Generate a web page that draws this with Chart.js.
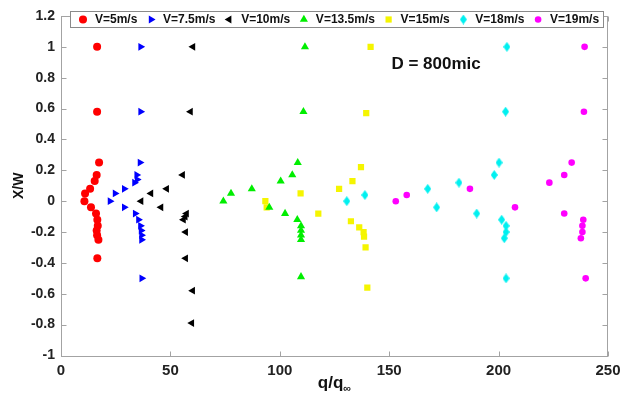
<!DOCTYPE html>
<html><head><meta charset="utf-8">
<script src="https://cdn.jsdelivr.net/npm/chart.js@4.4.1/dist/chart.umd.min.js"></script>
<style>html,body{margin:0;padding:0;background:#fff;}canvas{display:block;}</style>
</head><body>
<canvas id="c" width="631" height="404"></canvas>
<script>
// ---------- data ----------
const seriesLabels = ['V=5m/s','V=7.5m/s','V=10m/s','V=13.5m/s','V=15m/s','V=18m/s','V=19m/s'];

const v5x  = [16.5, 16.5, 17.4, 16.3, 15.4, 13.3, 11.0, 10.7, 13.7, 16.0, 16.6, 16.8, 16.3, 16.5, 17.1, 16.6];
const v5y  = [1, 0.58, 0.25, 0.17, 0.13, 0.08, 0.05, 0, -0.04, -0.08, -0.12, -0.16, -0.19, -0.22, -0.25, -0.37];

const v75x = [36.4, 36.4, 36.1, 34.6, 34.8, 33.6, 28.9, 24.7, 22.4, 28.9, 33.9, 35.4, 36.3, 36.6, 36.8, 36.8, 36.9];
const v75y = [1, 0.58, 0.25, 0.17, 0.14, 0.12, 0.08, 0.05, 0, -0.04, -0.08, -0.12, -0.16, -0.19, -0.22, -0.25, -0.5];

const v10x = [60.3, 59.2, 55.6, 48.3, 41.1, 36.6, 45.7, 57.4, 56.8, 56.0, 57.0, 57.0, 60.2, 59.8];
const v10y = [1, 0.58, 0.17, 0.08, 0.05, 0, -0.04, -0.08, -0.10, -0.12, -0.2, -0.37, -0.58, -0.79];

const v135x = [111.5, 110.8, 108.2, 105.7, 100.4, 87.2, 77.7, 74.2, 95.2, 102.4, 108.0, 109.7, 109.7, 109.7, 109.7, 109.7];
const v135y = [1, 0.58, 0.25, 0.17, 0.13, 0.08, 0.05, 0, -0.04, -0.08, -0.12, -0.16, -0.19, -0.22, -0.25, -0.49];

const v15x = [141.5, 139.5, 137.1, 133.2, 127.1, 109.5, 93.4, 94.0, 117.6, 132.5, 136.3, 138.3, 138.5, 139.2, 140.0];
const v15y = [1, 0.57, 0.22, 0.13, 0.08, 0.05, 0, -0.04, -0.08, -0.13, -0.17, -0.2, -0.23, -0.3, -0.56];

const v18x = [203.8, 203.2, 200.2, 198.0, 181.9, 167.6, 138.9, 130.6, 171.7, 190.0, 201.4, 203.4, 203.4, 202.6, 203.4];
const v18y = [1, 0.58, 0.25, 0.17, 0.12, 0.08, 0.04, 0, -0.04, -0.08, -0.12, -0.16, -0.2, -0.24, -0.5];

const v19x = [239.3, 239.0, 233.4, 230.0, 223.2, 186.9, 158.0, 153.0, 207.5, 230.0, 238.7, 238.3, 238.3, 237.6, 239.8];
const v19y = [1, 0.58, 0.25, 0.17, 0.12, 0.08, 0.04, 0, -0.04, -0.08, -0.12, -0.16, -0.2, -0.24, -0.5];

const xTicks = [0, 50, 100, 150, 200, 250];
const xTickLabels = ['0','50','100','150','200','250'];
const yTicks = [-1, -0.8, -0.6, -0.4, -0.2, 0, 0.2, 0.4, 0.6, 0.8, 1, 1.2];
const yTickLabels = ['-1','-0.8','-0.6','-0.4','-0.2','0','0.2','0.4','0.6','0.8','1','1.2'];

const annotationText = 'D = 800mic';
const annotationPos = [151, 0.885];
const xTitleMain = 'q/q';
const xTitleSub = '\u221E';
const yTitle = 'X/W';

// ---------- styles ----------
const FONT = '"Liberation Sans", Arial, Helvetica, sans-serif';
function pts(xs, ys){ return xs.map((x,i)=>({x:x, y:ys[i]})); }

// elongated diamond for cyan
const diamond = document.createElement('canvas');
diamond.width = 7; diamond.height = 10;
(function(){
  const g = diamond.getContext('2d');
  g.fillStyle = '#00f0f0';
  g.beginPath(); g.moveTo(3.5,0); g.lineTo(7,5); g.lineTo(3.5,10); g.lineTo(0,5); g.closePath(); g.fill();
})();

const styles = [
  {color:'#ff0000', pointStyle:'circle',   radius:4.0, rotation:0},
  {color:'#0000ff', pointStyle:'triangle', radius:4.5, rotation:90},
  {color:'#000000', pointStyle:'triangle', radius:4.5, rotation:-90},
  {color:'#00ee00', pointStyle:'triangle', radius:4.7, rotation:0},
  {color:'#f5f500', pointStyle:'rect',     radius:4.4, rotation:0},
  {color:'#00f0f0', pointStyle:diamond,    radius:5,   rotation:0},
  {color:'#ff00ff', pointStyle:'circle',   radius:3.3, rotation:0}
];
const seriesData = [pts(v5x,v5y), pts(v75x,v75y), pts(v10x,v10y), pts(v135x,v135y), pts(v15x,v15y), pts(v18x,v18y), pts(v19x,v19y)];

const datasets = seriesData.map((d,i)=>({
  label: seriesLabels[i],
  data: d,
  pointStyle: styles[i].pointStyle,
  pointRadius: styles[i].radius,
  pointRotation: styles[i].rotation,
  backgroundColor: styles[i].color,
  borderColor: styles[i].color,
  borderWidth: 0,
  showLine: false
}));

// ---------- plugins ----------
const framePlugin = {
  id:'frame',
  beforeDatasetsDraw(chart){
    const {ctx, chartArea:a, scales} = chart;
    ctx.save();
    ctx.strokeStyle = '#a3a3a3';
    ctx.lineWidth = 1;
    const L = Math.round(a.left)+0.5, R = Math.round(a.right)-0.5, T = Math.round(a.top)+0.5, B = Math.round(a.bottom)+0.5;
    ctx.strokeRect(L, T, R-L, B-T);
    ctx.beginPath();
    xTicks.forEach(v=>{
      const px = Math.round(scales.x.getPixelForValue(v))+0.5;
      ctx.moveTo(px, B); ctx.lineTo(px, B-5);
      ctx.moveTo(px, T); ctx.lineTo(px, T+5);
    });
    yTicks.forEach(v=>{
      const py = Math.round(scales.y.getPixelForValue(v))+0.5;
      ctx.moveTo(L, py); ctx.lineTo(L+5, py);
      ctx.moveTo(R, py); ctx.lineTo(R-5, py);
    });
    ctx.stroke();
    ctx.restore();
  },
  afterDraw(chart){
    const {ctx, chartArea:a, scales} = chart;
    ctx.save();
    // annotation
    ctx.fillStyle = '#111';
    ctx.font = 'bold 17px ' + FONT;
    ctx.textBaseline = 'middle';
    ctx.textAlign = 'left';
    ctx.fillText(annotationText, scales.x.getPixelForValue(annotationPos[0]), scales.y.getPixelForValue(annotationPos[1]));
    // x title with subscript
    ctx.font = 'bold 17px ' + FONT;
    const w1 = ctx.measureText(xTitleMain).width;
    ctx.font = 'bold 11px ' + FONT;
    const w2 = ctx.measureText(xTitleSub).width;
    const cx = (a.left + a.right)/2;
    const sx = cx - (w1+w2)/2;
    ctx.textBaseline = 'alphabetic';
    ctx.font = 'bold 17px ' + FONT;
    ctx.fillStyle = '#111';
    ctx.fillText(xTitleMain, sx, 388);
    ctx.font = 'bold 11px ' + FONT;
    ctx.fillText(xTitleSub, sx + w1, 392);
    // legend
    const bx = 70, by = 11, bw = 533, bh = 16;
    ctx.fillStyle = '#fff';
    ctx.fillRect(bx, by, bw, bh);
    ctx.strokeStyle = '#8a8a8a';
    ctx.lineWidth = 1;
    ctx.strokeRect(bx+0.5, by+0.5, bw, bh);
    ctx.font = 'bold 12px ' + FONT;
    ctx.textBaseline = 'middle';
    let x = 83;
    const cy = by + bh/2 + 0.5;
    seriesLabels.forEach((lab,i)=>{
      const st = styles[i];
      const opts = {pointStyle: st.pointStyle, radius: st.radius, rotation: st.rotation, borderWidth: 0};
      ctx.fillStyle = st.color; ctx.strokeStyle = st.color;
      if (Chart.helpers && Chart.helpers.drawPoint) {
        Chart.helpers.drawPoint(ctx, opts, x, cy);
      }
      ctx.fillStyle = '#111';
      ctx.fillText(lab, x + 12, cy);
      x = x + 12 + ctx.measureText(lab).width + 13.7;
    });
    ctx.restore();
  }
};

new Chart(document.getElementById('c'), {
  type:'scatter',
  data:{datasets:datasets},
  options:{
    responsive:false,
    animation:false,
    events:[],
    layout:{padding:{top:16, right:23, left:0, bottom:0}},
    plugins:{legend:{display:false}, tooltip:{enabled:false}},
    scales:{
      x:{
        type:'linear', min:0, max:250,
        afterBuildTicks:s=>{ s.ticks = xTicks.map(v=>({value:v})); },
        afterFit:s=>{ s.height = 48.5; },
        ticks:{ font:{family:FONT, size:15, weight:'bold'}, color:'#222', padding:6, maxRotation:0,
                callback:(v,i)=>xTickLabels[i] },
        grid:{display:false, drawTicks:false},
        border:{display:false}
      },
      y:{
        type:'linear', min:-1, max:1.2,
        afterBuildTicks:s=>{ s.ticks = yTicks.map(v=>({value:v})); },
        afterFit:s=>{ s.width = 61; },
        ticks:{ font:{family:FONT, size:14, weight:'bold'}, color:'#222', padding:6,
                callback:(v,i)=>yTickLabels[i] },
        grid:{display:false, drawTicks:false},
        border:{display:false},
        title:{display:true, text:yTitle, color:'#111', font:{family:FONT, size:14, weight:'bold'}, padding:{top:10.6, bottom:0}}
      }
    }
  },
  plugins:[framePlugin]
});
</script>
</body></html>
